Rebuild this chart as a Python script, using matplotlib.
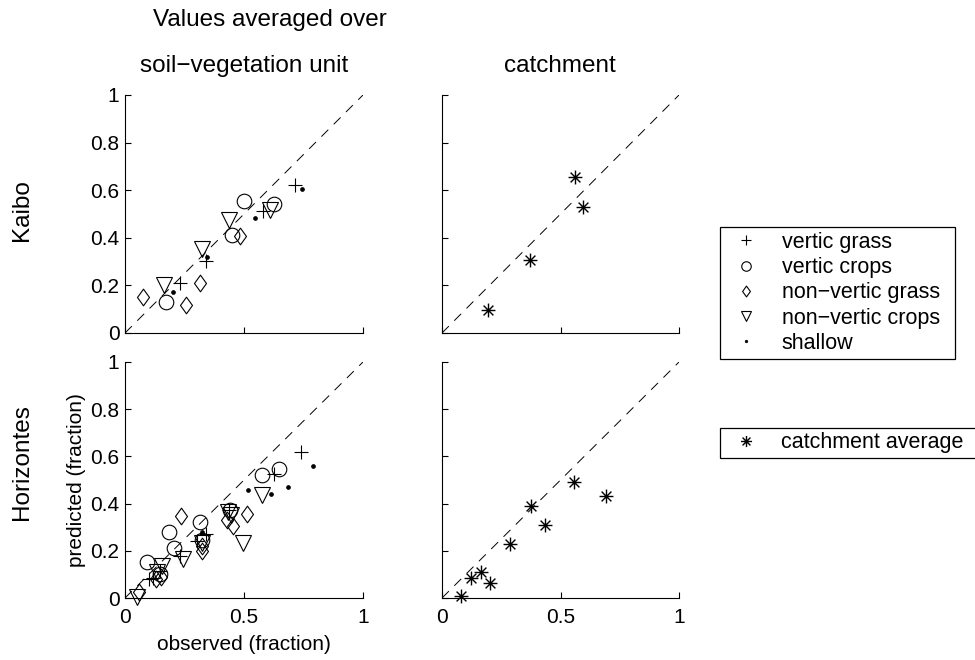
import numpy as np
import matplotlib
matplotlib.use("Agg")
import matplotlib.pyplot as plt
from matplotlib.path import Path
from matplotlib.lines import Line2D

plt.rcParams['font.family'] = ['Liberation Sans', 'DejaVu Sans']
plt.rcParams['lines.scale_dashes'] = False
plt.rcParams['axes.unicode_minus'] = True

# ---------------- data ----------------
# Kaibo, per soil-vegetation unit (observed, predicted)
kaibo_vg_obs = [0.231, 0.340, 0.580, 0.716]
kaibo_vg_pred = [0.212, 0.302, 0.512, 0.621]
kaibo_vc_obs = [0.171, 0.448, 0.499, 0.627]
kaibo_vc_pred = [0.130, 0.411, 0.555, 0.543]
kaibo_nvg_obs = [0.077, 0.256, 0.315, 0.485]
kaibo_nvg_pred = [0.151, 0.119, 0.210, 0.408]
kaibo_nvc_obs = [0.165, 0.322, 0.435, 0.608]
kaibo_nvc_pred = [0.202, 0.355, 0.474, 0.516]
kaibo_sh_obs = [0.200, 0.345, 0.547, 0.745]
kaibo_sh_pred = [0.173, 0.320, 0.484, 0.604]

# Kaibo, catchment average
kaibo_ca_obs = [0.194, 0.370, 0.561, 0.595]
kaibo_ca_pred = [0.097, 0.307, 0.654, 0.531]

# Horizontes, per soil-vegetation unit
hor_vg_obs = [0.741, 0.627, 0.437, 0.340, 0.301, 0.231, 0.102, 0.119, 0.147]
hor_vg_pred = [0.619, 0.525, 0.372, 0.273, 0.240, 0.176, 0.081, 0.085, 0.113]
hor_vc_obs = [0.648, 0.574, 0.441, 0.315, 0.322, 0.183, 0.206, 0.091, 0.145]
hor_vc_pred = [0.548, 0.522, 0.374, 0.320, 0.244, 0.280, 0.212, 0.151, 0.100]
hor_nvg_obs = [0.235, 0.511, 0.427, 0.455, 0.322, 0.322, 0.150, 0.130, 0.060]
hor_nvg_pred = [0.346, 0.358, 0.332, 0.306, 0.219, 0.200, 0.090, 0.080, 0.024]
hor_nvc_obs = [0.574, 0.497, 0.434, 0.445, 0.322, 0.242, 0.154, 0.133, 0.049]
hor_nvc_pred = [0.438, 0.233, 0.365, 0.350, 0.235, 0.165, 0.134, 0.109, 0.005]
hor_sh_obs = [0.791, 0.686, 0.612, 0.518, 0.322]
hor_sh_pred = [0.561, 0.469, 0.441, 0.459, 0.278]

# Horizontes, catchment average
hor_ca_obs = [0.079, 0.121, 0.163, 0.201, 0.288, 0.374, 0.433, 0.556, 0.693]
hor_ca_pred = [0.007, 0.085, 0.109, 0.064, 0.229, 0.391, 0.308, 0.492, 0.431]

one_to_one = [0, 1]
x_ticks = [0, 0.5, 1]
x_ticklabels = ['0', '0.5', '1']
y_ticks = [0, 0.2, 0.4, 0.6, 0.8, 1]
y_ticklabels = ['0', '0.2', '0.4', '0.6', '0.8', '1']

unit_labels = ['vertic grass', 'vertic crops', 'non\u2212vertic grass',
               'non\u2212vertic crops', 'shallow']
catch_label = 'catchment average'

# ---------------- marker shapes ----------------
s = np.sqrt(0.5)
asterisk = Path([(-1, 0), (1, 0), (0, -1), (0, 1), (-s, -s), (s, s), (-s, s), (s, -s)],
                [Path.MOVETO, Path.LINETO] * 4)
diamond = Path([(0, 1), (0.72, 0), (0, -1), (-0.72, 0), (0, 1)],
               [Path.MOVETO, Path.LINETO, Path.LINETO, Path.LINETO, Path.CLOSEPOLY])

styles = [
    dict(marker='+', ms=10, mfc='none', mec='k', mew=0.8),
    dict(marker='o', ms=10.5, mfc='none', mec='k', mew=0.8),
    dict(marker=diamond, ms=12, mfc='none', mec='k', mew=0.8),
    dict(marker='v', ms=11, mfc='none', mec='k', mew=0.8),
    dict(marker='o', ms=2.8, mfc='k', mec='k', mew=0.5),
]
star_style = dict(marker=asterisk, ms=10, mfc='none', mec='k', mew=1.0)

TICK_FS = 15
LABEL_FS = 15
TITLE_FS = 17.5
LEGEND_FS = 15.5

# ---------------- figure ----------------
fig = plt.figure(figsize=(9.75, 6.6), dpi=100)

W, H = 975.0, 660.0
def box(x0, y_top, x1, y_bot):
    return [x0 / W, 1 - y_bot / H, (x1 - x0) / W, (y_bot - y_top) / H]

ax_tl = fig.add_axes(box(125, 95, 363, 333))
ax_tr = fig.add_axes(box(442, 95, 679, 333))
ax_bl = fig.add_axes(box(125, 362, 363, 598))
ax_br = fig.add_axes(box(442, 362, 679, 598))

def style_axes(ax, xlabels, ylabels):
    ax.set_xlim(0, 1)
    ax.set_ylim(0, 1)
    for side in ('top', 'right'):
        ax.spines[side].set_visible(False)
    for side in ('left', 'bottom'):
        ax.spines[side].set_linewidth(0.8)
    ax.set_xticks(x_ticks)
    ax.set_yticks(y_ticks)
    ax.tick_params(direction='in', length=4, width=0.8, labelsize=TICK_FS)
    ax.tick_params(axis='x', pad=7)
    ax.tick_params(axis='y', pad=4)
    if xlabels:
        ax.set_xticklabels(x_ticklabels)
    else:
        ax.set_xticklabels([])
    if ylabels:
        ax.set_yticklabels(y_ticklabels)
    else:
        ax.set_yticklabels([])
    ax.plot(one_to_one, one_to_one, color='k', lw=0.7, dashes=(7, 5.5))

style_axes(ax_tl, False, True)
style_axes(ax_tr, False, False)
style_axes(ax_bl, True, True)
style_axes(ax_br, True, False)

kaibo_units = [(kaibo_vg_obs, kaibo_vg_pred), (kaibo_vc_obs, kaibo_vc_pred),
               (kaibo_nvg_obs, kaibo_nvg_pred), (kaibo_nvc_obs, kaibo_nvc_pred),
               (kaibo_sh_obs, kaibo_sh_pred)]
hor_units = [(hor_vg_obs, hor_vg_pred), (hor_vc_obs, hor_vc_pred),
             (hor_nvg_obs, hor_nvg_pred), (hor_nvc_obs, hor_nvc_pred),
             (hor_sh_obs, hor_sh_pred)]

for (xo, yp), st in zip(kaibo_units, styles):
    ax_tl.plot(xo, yp, ls='none', clip_on=False, **st)
for (xo, yp), st in zip(hor_units, styles):
    ax_bl.plot(xo, yp, ls='none', clip_on=False, **st)

ax_tr.plot(kaibo_ca_obs, kaibo_ca_pred, ls='none', clip_on=False, **star_style)
ax_br.plot(hor_ca_obs, hor_ca_pred, ls='none', clip_on=False, **star_style)

ax_bl.set_xlabel('observed (fraction)', fontsize=LABEL_FS, labelpad=6)
ax_bl.set_ylabel('predicted (fraction)', fontsize=LABEL_FS, labelpad=3)

# ---------------- titles ----------------
fig.text(270 / W, 1 - 20 / H, 'Values averaged over', ha='center', va='center', fontsize=TITLE_FS)
fig.text(244 / W, 1 - 66 / H, 'soil\u2212vegetation unit', ha='center', va='center', fontsize=TITLE_FS)
fig.text(560 / W, 1 - 66 / H, 'catchment', ha='center', va='center', fontsize=TITLE_FS)
fig.text(22 / W, 1 - 210 / H, 'Kaibo', ha='center', va='center', rotation=90, fontsize=TITLE_FS)
fig.text(22 / W, 1 - 462 / H, 'Horizontes', ha='center', va='center', rotation=90, fontsize=TITLE_FS)

# ---------------- legends ----------------
unit_handles = [Line2D([], [], ls='none', **st) for st in styles]
leg1 = fig.legend(unit_handles, unit_labels, loc='upper left', mode='expand',
                  bbox_to_anchor=(720 / W, 1 - 358 / H, 235 / W, 131 / H),
                  fontsize=LEGEND_FS, frameon=True, fancybox=False, edgecolor='k',
                  framealpha=1, markerscale=0.65, handlelength=2.0, handletextpad=0.65,
                  labelspacing=0.2, borderpad=0.22, borderaxespad=0)
leg1.get_frame().set_linewidth(0.9)

catch_handle = [Line2D([], [], ls='none', **star_style)]
leg2 = fig.legend(catch_handle, [catch_label], loc='upper left', mode='expand',
                  bbox_to_anchor=(720 / W, 1 - 457 / H, 270 / W, 29 / H),
                  fontsize=LEGEND_FS, frameon=True, fancybox=False, edgecolor='k',
                  framealpha=1, markerscale=0.8, handlelength=2.0, handletextpad=0.65,
                  borderpad=0.2, borderaxespad=0)
leg2.get_frame().set_linewidth(0.9)

fig.savefig('out.png', dpi=100)
